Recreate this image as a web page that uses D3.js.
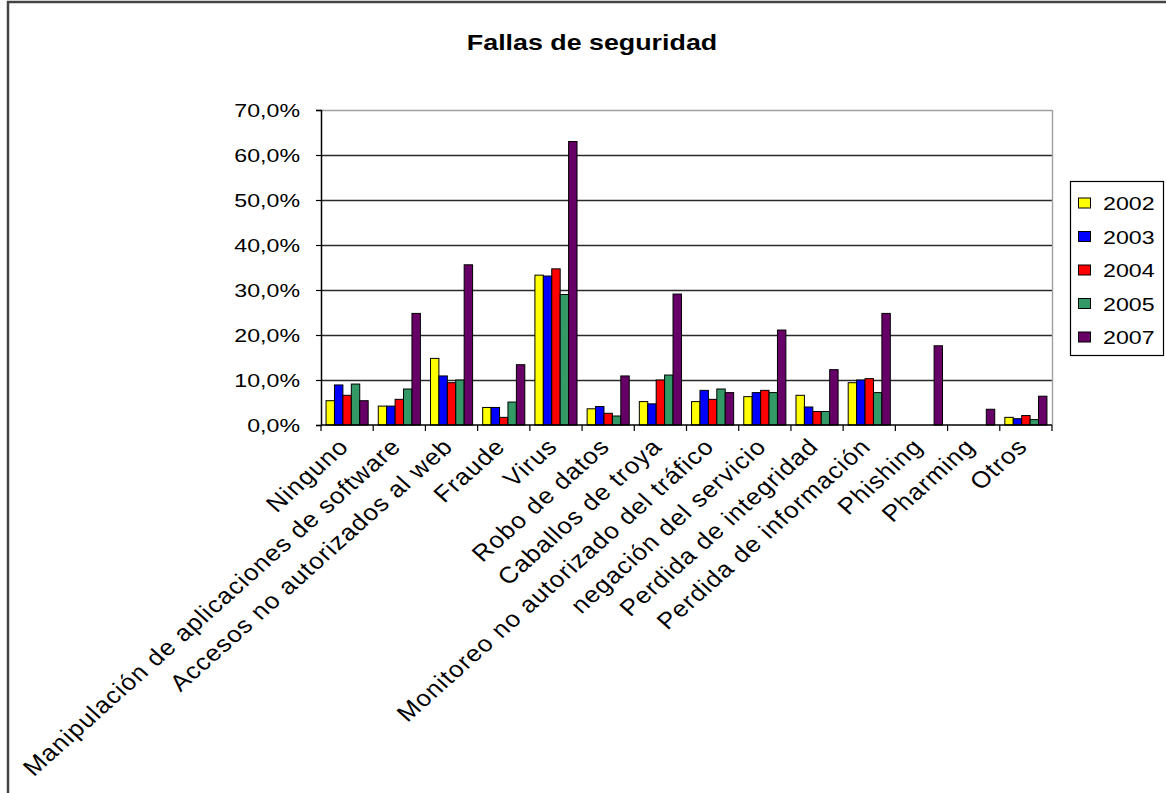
<!DOCTYPE html>
<html>
<head>
<meta charset="utf-8">
<script src="https://cdn.jsdelivr.net/npm/d3@7"></script>
<style>
  body { margin: 0; background: #fff; }
  svg text { font-family: Arial, "Liberation Sans", sans-serif; fill: #000; }
</style>
</head>
<body>
<svg id="chart" width="1166" height="793"></svg>
<script>
// Chart data (percentages)
const categories = [
  "Ninguno",
  "Manipulación de aplicaciones de software",
  "Accesos no autorizados al web",
  "Fraude",
  "Virus",
  "Robo de datos",
  "Caballos de troya",
  "Monitoreo no autorizado del tráfico",
  "negación del servicio",
  "Perdida de integridad",
  "Perdida de información",
  "Phishing",
  "Pharming",
  "Otros"
];
const years = ["2002", "2003", "2004", "2005", "2007"];
const v2002 = [5.4, 4.2, 14.8, 3.9, 33.3, 3.6, 5.2, 5.2, 6.3, 6.6, 9.4, null, null, 1.7];
const v2003 = [8.9, 4.2, 10.9, 3.9, 33.1, 4.1, 4.7, 7.7, 7.2, 4.0, 10.0, null, null, 1.4];
const v2004 = [6.6, 5.7, 9.4, 1.7, 34.7, 2.6, 10.0, 5.7, 7.7, 3.0, 10.3, null, null, 2.1];
const v2005 = [9.1, 8.0, 10.0, 5.1, 29.0, 2.0, 11.1, 8.0, 7.2, 3.0, 7.2, null, null, 1.2];
const v2007 = [5.4, 24.8, 35.6, 13.4, 63.0, 10.9, 29.1, 7.2, 21.1, 12.3, 24.8, 17.6, 3.5, 6.4];
const yTicks = [0, 10, 20, 30, 40, 50, 60, 70];
const colors = ["#ffff00", "#0000ff", "#ff0000", "#339966", "#660066"];

const series = [v2002, v2003, v2004, v2005, v2007];

// the source picture is stretched sideways, text follows that
const sx = 1.22;
const sxLabel = 1.12;

const svg = d3.select("#chart");

// frame around the whole chart
svg.append("rect")
  .attr("x", 8).attr("y", 2)
  .attr("width", 1170).attr("height", 800)
  .attr("fill", "none")
  .attr("stroke", "#444")
  .attr("stroke-width", 2.5);

const plotL = 321, plotR = 1052, plotT = 110, plotB = 425;

const x = d3.scaleBand().domain(categories).range([plotL, plotR]);
const y = d3.scaleLinear().domain([0, 70]).range([plotB, plotT]);

const bw = x.bandwidth();
const barW = bw / 6.2;
const off = (bw - 5 * barW) / 2;
const xs = d3.scaleBand().domain(years).range([off, off + 5 * barW]);

// title
svg.append("text")
  .attr("transform", `translate(592,50) scale(${sx},1)`)
  .attr("text-anchor", "middle")
  .attr("font-weight", "bold")
  .attr("font-size", 22)
  .text("Fallas de seguridad");

// gridlines
svg.append("g")
  .selectAll("line")
  .data(yTicks.filter(d => d > 0))
  .join("line")
  .attr("x1", plotL).attr("x2", plotR)
  .attr("y1", d => Math.round(y(d)) + 0.5)
  .attr("y2", d => Math.round(y(d)) + 0.5)
  .attr("stroke", d => d === 70 ? "#a0a0a0" : "#2a2a2a")
  .attr("stroke-width", 1.4);

// right border of the plot
svg.append("line")
  .attr("x1", plotR + 0.5).attr("x2", plotR + 0.5)
  .attr("y1", plotT).attr("y2", plotB)
  .attr("stroke", "#a0a0a0").attr("stroke-width", 1.4);

// bars
const groups = svg.append("g")
  .selectAll("g")
  .data(series)
  .join("g")
  .attr("fill", (d, i) => colors[i]);

groups.selectAll("rect")
  .data((vals, i) => vals.map((v, j) => ({ v, cat: categories[j], yr: years[i] })).filter(d => d.v != null))
  .join("rect")
  .attr("x", d => x(d.cat) + xs(d.yr))
  .attr("y", d => y(d.v))
  .attr("width", barW)
  .attr("height", d => plotB - y(d.v))
  .attr("stroke", "#000")
  .attr("stroke-width", 1);

// y axis
const yAxis = svg.append("g")
  .attr("transform", `translate(${plotL},0)`)
  .call(d3.axisLeft(y).tickValues(yTicks).tickSize(5).tickFormat(() => ""));
yAxis.select(".domain").attr("stroke", "#000").attr("stroke-width", 1.5);
yAxis.selectAll(".tick line").attr("stroke", "#000").attr("stroke-width", 1.2);

svg.append("g")
  .selectAll("text")
  .data(yTicks)
  .join("text")
  .attr("transform", d => `translate(300,${y(d) + 7}) scale(${sx},1)`)
  .attr("text-anchor", "end")
  .attr("font-size", 19)
  .text(d => d3.format(".1f")(d).replace(".", ",") + "%");

// x axis with ticks between categories
const xAxis = svg.append("g").attr("transform", `translate(0,${plotB})`);
xAxis.append("line")
  .attr("x1", plotL).attr("x2", plotR)
  .attr("stroke", "#000").attr("stroke-width", 1.5);
xAxis.selectAll(".tk")
  .data(d3.range(categories.length + 1))
  .join("line")
  .attr("class", "tk")
  .attr("x1", i => plotL + i * bw).attr("x2", i => plotL + i * bw)
  .attr("y1", 0).attr("y2", 6)
  .attr("stroke", "#000").attr("stroke-width", 1.2);

svg.append("g")
  .selectAll("text")
  .data(categories)
  .join("text")
  .attr("transform", d => `translate(${x(d) + bw / 2 + 3},${plotB + 23}) scale(${sxLabel},1) rotate(-45)`)
  .attr("text-anchor", "end")
  .attr("font-size", 23)
  .attr("letter-spacing", 1)
  .text(d => d);

// legend
const legend = svg.append("g");
legend.append("rect")
  .attr("x", 1070.5).attr("y", 181.5)
  .attr("width", 93).attr("height", 174)
  .attr("fill", "#fff").attr("stroke", "#000").attr("stroke-width", 1.2);

const ly = d3.scalePoint().domain(years).range([203, 337]);
const items = legend.selectAll("g.item")
  .data(years)
  .join("g")
  .attr("class", "item");
items.append("rect")
  .attr("x", 1078.5).attr("y", d => ly(d) - 5)
  .attr("width", 12).attr("height", 10)
  .attr("fill", (d, i) => colors[i])
  .attr("stroke", "#000").attr("stroke-width", 1);
items.append("text")
  .attr("transform", d => `translate(1103,${ly(d) + 7}) scale(${sx},1)`)
  .attr("font-size", 19)
  .text(d => d);
</script>
</body>
</html>
